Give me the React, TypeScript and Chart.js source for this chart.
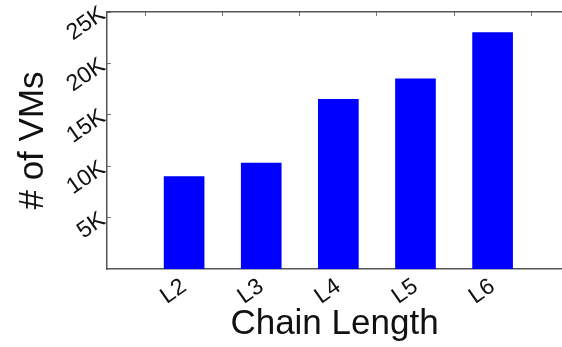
import React, { useEffect, useRef } from "react";
import { Chart, registerables } from "chart.js";

Chart.register(...registerables);

const categories = ["L2", "L3", "L4", "L5", "L6"];
const vmCounts = [9000, 10300, 16500, 18500, 23000];
const yTickValues = [5000, 10000, 15000, 20000, 25000];
const yTickLabels = ["5K", "10K", "15K", "20K", "25K"];

const FONT = "'Liberation Sans', Arial, Helvetica, sans-serif";

export default function App() {
  const ref = useRef<HTMLCanvasElement | null>(null);

  useEffect(() => {
    document.body.style.margin = "0";
    const canvas = ref.current;
    if (!canvas) return;
    const points = categories.map((_, i) => ({ x: i + 1, y: vmCounts[i] }));
    const chart = new Chart(canvas, {
      type: "bar",
      data: {
        datasets: [
          {
            data: points as any,
            backgroundColor: "#0000ff",
            borderWidth: 0,
            barThickness: 40,
            xAxisID: "x",
            yAxisID: "y",
          },
        ],
      },
      options: {
        animation: false,
        responsive: false,
        maintainAspectRatio: false,
        layout: { padding: 0 },
        plugins: { legend: { display: false }, tooltip: { enabled: false } },
        scales: {
          x: {
            type: "linear",
            position: "bottom",
            offset: false,
            min: 0,
            max: 5.9,
            afterFit: (s: any) => {
              s.height = 78;
              s.paddingLeft = 0;
              s.paddingRight = 0;
            },
            afterBuildTicks: (s: any) => {
              s.ticks = categories.map((_, i) => ({ value: i + 1 }));
            },
            ticks: {
              stepSize: 1,
              autoSkip: false,
              minRotation: 35,
              maxRotation: 35,
              padding: 4,
              color: "#111",
              font: { family: FONT, size: 23 },
              callback: (v: any) => {
                const i = Math.round(Number(v)) - 1;
                return Math.abs(Number(v) - Math.round(Number(v))) < 1e-6 && categories[i] ? categories[i] : "";
              },
            },
            grid: { display: false, drawTicks: false, offset: false },
            border: { display: true, color: "#555", width: 1.5 },
            title: {
              display: true,
              text: "Chain Length",
              color: "#111",
              font: { family: FONT, size: 35 },
              padding: { top: 0, bottom: 2 },
            },
          },
          x2: {
            type: "linear",
            position: "top",
            offset: false,
            min: 0,
            max: 5.9,
            afterFit: (s: any) => {
              s.height = 12;
              s.paddingLeft = 0;
              s.paddingRight = 0;
            },
            afterBuildTicks: (s: any) => {
              s.ticks = categories.map((_, i) => ({ value: i + 1 }));
            },
            ticks: { display: false },
            grid: {
              display: true,
              drawOnChartArea: false,
              drawTicks: true,
              tickLength: -4,
              color: "#777",
              lineWidth: 1,
            },
            border: { display: true, color: "#555", width: 1.5 },
          },
          y: {
            type: "linear",
            position: "left",
            min: 0,
            max: 25000,
            afterFit: (s: any) => {
              s.width = 107;
              s.paddingTop = 0;
              s.paddingBottom = 0;
            },
            afterBuildTicks: (s: any) => {
              s.ticks = yTickValues.map((v) => ({ value: v }));
            },
            ticks: {
              stepSize: 5000,
              minRotation: 35,
              maxRotation: 35,
              padding: 8,
              color: "#111",
              font: { family: FONT, size: 23 },
              callback: (v: any) => {
                const i = yTickValues.indexOf(Number(v));
                return i >= 0 ? yTickLabels[i] : "";
              },
            },
            grid: {
              display: true,
              drawOnChartArea: false,
              drawTicks: true,
              tickLength: -4,
              color: "#777",
              lineWidth: 1,
            },
            border: { display: true, color: "#555", width: 1.5 },
            title: {
              display: true,
              text: "# of VMs",
              color: "#111",
              font: { family: FONT, size: 35 },
              padding: { top: 12, bottom: 0 },
            },
          },
        },
      },
    } as any);
    return () => chart.destroy();
  }, []);

  return (
    <div style={{ width: 562, height: 347 }}>
      <canvas ref={ref} width={562} height={347} style={{ display: "block", width: 562, height: 347 }} />
    </div>
  );
}
